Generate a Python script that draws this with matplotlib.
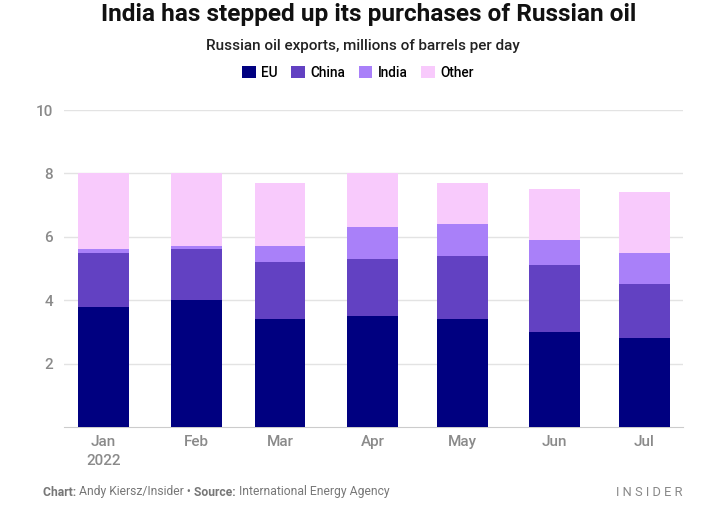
import matplotlib
matplotlib.use("Agg")
import matplotlib.pyplot as plt
import matplotlib.dates as mdates
from matplotlib.patches import Patch
import numpy as np
import datetime as dt

months = ["2022-01-01", "2022-02-01", "2022-03-01", "2022-04-01", "2022-05-01", "2022-06-01", "2022-07-01"]
month_labels = ["Jan\n2022", "Feb", "Mar", "Apr", "May", "Jun", "Jul"]
eu = [3.8, 4.0, 3.4, 3.5, 3.4, 3.0, 2.8]
china = [1.7, 1.6, 1.8, 1.8, 2.0, 2.1, 1.7]
india = [0.1, 0.1, 0.5, 1.0, 1.0, 0.8, 1.0]
other = [2.4, 2.3, 2.0, 1.7, 1.3, 1.6, 1.9]
series_names = ["EU", "China", "India", "Other"]
colors = ["#000080", "#6241C2", "#A980F9", "#F8CAFC"]
yticks = [2, 4, 6, 8, 10]

W, H = 723, 523
fig = plt.figure(figsize=(W / 100, H / 100), dpi=100)
ax = fig.add_axes([64 / W, (H - 427) / H, (683 - 64) / W, (427 - 110) / H])

dates = [dt.datetime.strptime(m, "%Y-%m-%d") for m in months]
x = mdates.date2num(dates)
series = [eu, china, india, other]
bottom = np.zeros(len(x))
for vals, c in zip(series, colors):
    ax.bar(x, vals, width=17, bottom=bottom, color=c, linewidth=0, zorder=3)
    bottom += np.array(vals)

ax.set_xlim(x[0] - 13.3, x[-1] + 12.9)
ax.set_ylim(0, 10)
ax.set_yticks(yticks)
ax.set_yticklabels([str(t) for t in yticks])
ax.set_xticks(x)
ax.set_xticklabels(month_labels)
ax.grid(axis="y", color="#e3e3e3", linewidth=1, zorder=0)
for s in ["top", "right", "left"]:
    ax.spines[s].set_visible(False)
ax.spines["bottom"].set_color("#cccccc")
ax.tick_params(axis="both", length=0, colors="#8a8a8a", labelsize=11)
ax.tick_params(axis="y", pad=8)
ax.tick_params(axis="x", pad=6)
for lbl in ax.get_xticklabels() + ax.get_yticklabels():
    lbl.set_fontfamily("Roboto")
    lbl.set_fontweight("medium")
    lbl.set_linespacing(1.4)

fig.text(369 / W, 1 - 14 / H, "India has stepped up its purchases of Russian oil",
         ha="center", va="center", fontsize=17.6, fontweight="bold", family="Roboto", color="#111111")
fig.text(363 / W, 1 - 46 / H, "Russian oil exports, millions of barrels per day",
         ha="center", va="center", fontsize=11, fontweight="medium", family="Roboto", color="#222222")

handles = [Patch(facecolor=c, edgecolor="none", label=n) for n, c in zip(series_names, colors)]
fig.legend(handles=handles, loc="center", bbox_to_anchor=(358 / W, 1 - 73 / H), ncol=4,
           frameon=False, handlelength=1.0, handleheight=1.0, handletextpad=0.4,
           columnspacing=1.0, prop={"family": "Roboto", "weight": "medium", "size": 9.8})

# footer
fig.canvas.draw()
r = fig.canvas.get_renderer()
xpos = 43
yf = 1 - 492 / H
parts = [("Chart: ", "bold"), ("Andy Kiersz/Insider • ", "normal"), ("Source: ", "bold"),
         ("International Energy Agency", "normal")]
for txt, wgt in parts:
    t = fig.text(xpos / W, yf, txt, ha="left", va="center", fontsize=8.7, fontweight=wgt,
                 family="Roboto", color="#777777")
    bb = t.get_window_extent(renderer=r)
    xpos += bb.width
fig.text(683 / W, yf, "I N S I D E R", ha="right", va="center", fontsize=9.3,
         family="Roboto", color="#888888")

fig.savefig("out.png", dpi=100)
